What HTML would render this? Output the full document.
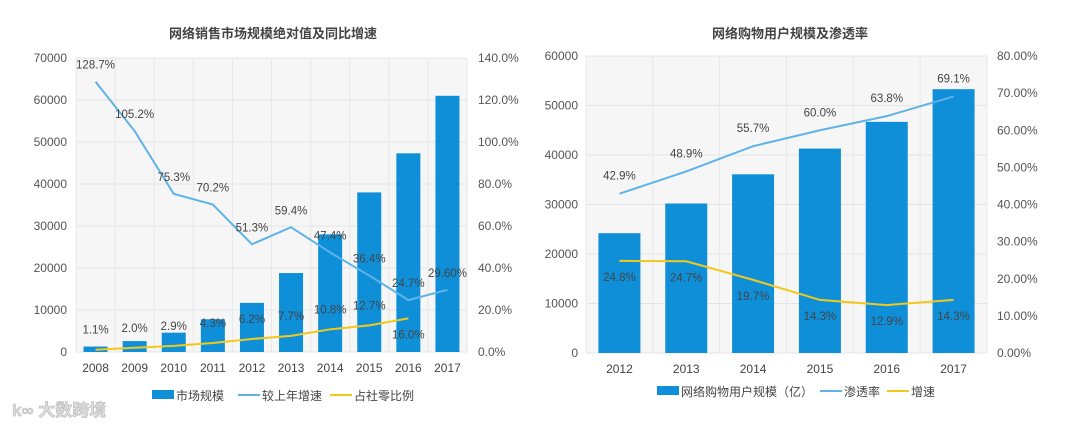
<!DOCTYPE html>
<html><head><meta charset="utf-8"><style>
html,body{margin:0;padding:0;background:#fff;width:1080px;height:428px;overflow:hidden}
svg text{font-family:"Liberation Sans","Noto Sans CJK SC",sans-serif}
</style></head><body>
<svg id="c" width="1080" height="428" xmlns="http://www.w3.org/2000/svg">
<text x="273" y="38" text-anchor="middle" font-size="13" font-weight="bold" fill="#444">网络销售市场规模绝对值及同比增速</text>
<text x="790" y="38" text-anchor="middle" font-size="13" font-weight="bold" fill="#444">网络购物用户规模及渗透率</text>
<text x="12" y="416" font-size="17" font-weight="bold" fill="#ddd" stroke="#bbb" stroke-width="0.6">k∞ 大数跨境</text>
</svg>
<script>
const leftYears=["2008","2009","2010","2011","2012","2013","2014","2015","2016","2017"];
const leftMarket=[1300,2600,4600,7800,11700,18800,28000,38000,47300,61000];
const leftGrowth=[128.7,105.2,75.3,70.2,51.3,59.4,47.4,36.4,24.7,29.6];
const leftGrowthLabels=["128.7%","105.2%","75.3%","70.2%","51.3%","59.4%","47.4%","36.4%","24.7%","29.60%"];
const leftShare=[1.1,2.0,2.9,4.3,6.2,7.7,10.8,12.7,16.0];
const leftYTicks=[0,10000,20000,30000,40000,50000,60000,70000];
const leftY2Ticks=["0.0%","20.0%","40.0%","60.0%","80.0%","100.0%","120.0%","140.0%"];
const rightYears=["2012","2013","2014","2015","2016","2017"];
const rightUsers=[24200,30200,36100,41300,46700,53300];
const rightPen=[42.9,48.9,55.7,60.0,63.8,69.1];
const rightGrowth=[24.8,24.7,19.7,14.3,12.9,14.3];
const rightYTicks=[0,10000,20000,30000,40000,50000,60000];
const rightY2Ticks=["0.00%","10.00%","20.00%","30.00%","40.00%","50.00%","60.00%","70.00%","80.00%"];
const svg=document.getElementById('c');
const NS='http://www.w3.org/2000/svg';
function mk(tag,attrs,txt){const e=document.createElementNS(NS,tag);for(const k in attrs)e.setAttribute(k,attrs[k]);if(txt!==undefined)e.textContent=txt;svg.appendChild(e);return e;}
function chart(o){
  const bw=(o.x1-o.x0)/o.cats.length;
  const xc=i=>o.x0+bw*(i+0.5);
  const y=v=>o.yb-(v/o.ymax)*(o.yb-o.yt);
  const y2=v=>o.yb-(v/o.y2max)*(o.yb-o.yt);
  let e=mk('rect',{x:o.x0,y:o.yt,width:o.x1-o.x0,height:o.yb-o.yt,fill:'#f6f6f6'});
  
  
  o.yTicks.forEach((t,i)=>{
    e=mk('line',{x1:o.x0,x2:o.x1,y1:y(t),y2:y(t),stroke:'#e4e4e4'});
    
    
    e=mk('text',{x:o.lx,y:y(t)+4,'text-anchor':'end','font-size':12,fill:'#555'},String(t));
    
    
  });
  o.y2Ticks.forEach((t,i)=>{
    const yy=o.yb-i*(o.yb-o.yt)/(o.y2Ticks.length-1);
    e=mk('text',{x:o.rx,y:yy+4,'font-size':12,fill:'#555'},t);
    
    
  });
  for(let i=0;i<=o.cats.length;i++){
    e=mk('line',{x1:o.x0+bw*i,x2:o.x0+bw*i,y1:o.yt,y2:o.yb,stroke:'#e8e8e8'});
    
    
  }
  o.bars.forEach((v,i)=>{
    e=mk('rect',{x:xc(i)-o.barW/2,y:y(v),width:o.barW,height:o.yb-y(v),fill:'#0f8fd8'});
    
    
  });
  o.cats.forEach((c,i)=>{
    e=mk('text',{x:xc(i),y:o.yb+20,'text-anchor':'middle','font-size':12,fill:'#444'},c);
    
    
  });
  o.lines.forEach(L=>{
    const pts=L.vals.map((v,i)=>xc(i)+','+y2(v)).join(' ');
    e=mk('polyline',{points:pts,fill:'none',stroke:L.color,'stroke-width':2});
    
    
    L.vals.forEach((v,i)=>{
      const lab=L.labels?L.labels[i]:v.toFixed(1)+'%';
      const dy=(L.dyOver&&L.dyOver[i]!==undefined)?L.dyOver[i]:L.dy;
      e=mk('text',{x:xc(i),y:y2(v)+dy,'text-anchor':'middle','font-size':11.5,fill:'#444'},lab);
      
      
    });
  });
}
chart({p:'left',x0:76,x1:467,yt:58,yb:352,ymax:70000,y2max:140,lx:67,rx:478,barW:24,
  cats:leftYears,bars:leftMarket,yTicks:leftYTicks,y2Ticks:leftY2Ticks,
  lines:[{name:'left-growth-line',vals:leftGrowth,labels:leftGrowthLabels,color:'#5fb3e6',dy:-13},
         {name:'left-share-line',vals:leftShare,color:'#f2c81c',dy:-16,dyOver:{8:20}}]});
chart({p:'right',x0:586,x1:987,yt:56,yb:353,ymax:60000,y2max:80,lx:578,rx:997,barW:42,
  cats:rightYears,bars:rightUsers,yTicks:rightYTicks,y2Ticks:rightY2Ticks,
  lines:[{name:'right-penetration-line',vals:rightPen,color:'#5fb3e6',dy:-14},
         {name:'right-growth-line',vals:rightGrowth,color:'#f2c81c',dy:20}]});
function leg(x,y,type,color,label,name){
  let e;
  if(type==='bar')e=mk('rect',{x:x,y:y-5,width:22,height:9,fill:color});
  else e=mk('line',{x1:x,x2:x+22,y1:y,y2:y,stroke:color,'stroke-width':2});
  
  
  e=mk('text',{x:x+24,y:y+5,'font-size':12,fill:'#444'},label);
  
  
}
leg(152,395,'bar','#0f8fd8','市场规模','legend-market');
leg(238,395,'line','#5fb3e6','较上年增速','legend-growth');
leg(330,395,'line','#f2c81c','占社零比例','legend-share');
leg(657,391,'bar','#0f8fd8','网络购物用户规模（亿）','legend-users');
leg(820,391,'line','#5fb3e6','渗透率','legend-penetration');
leg(887,391,'line','#f2c81c','增速','legend-right-growth');
</script>
</body></html>
